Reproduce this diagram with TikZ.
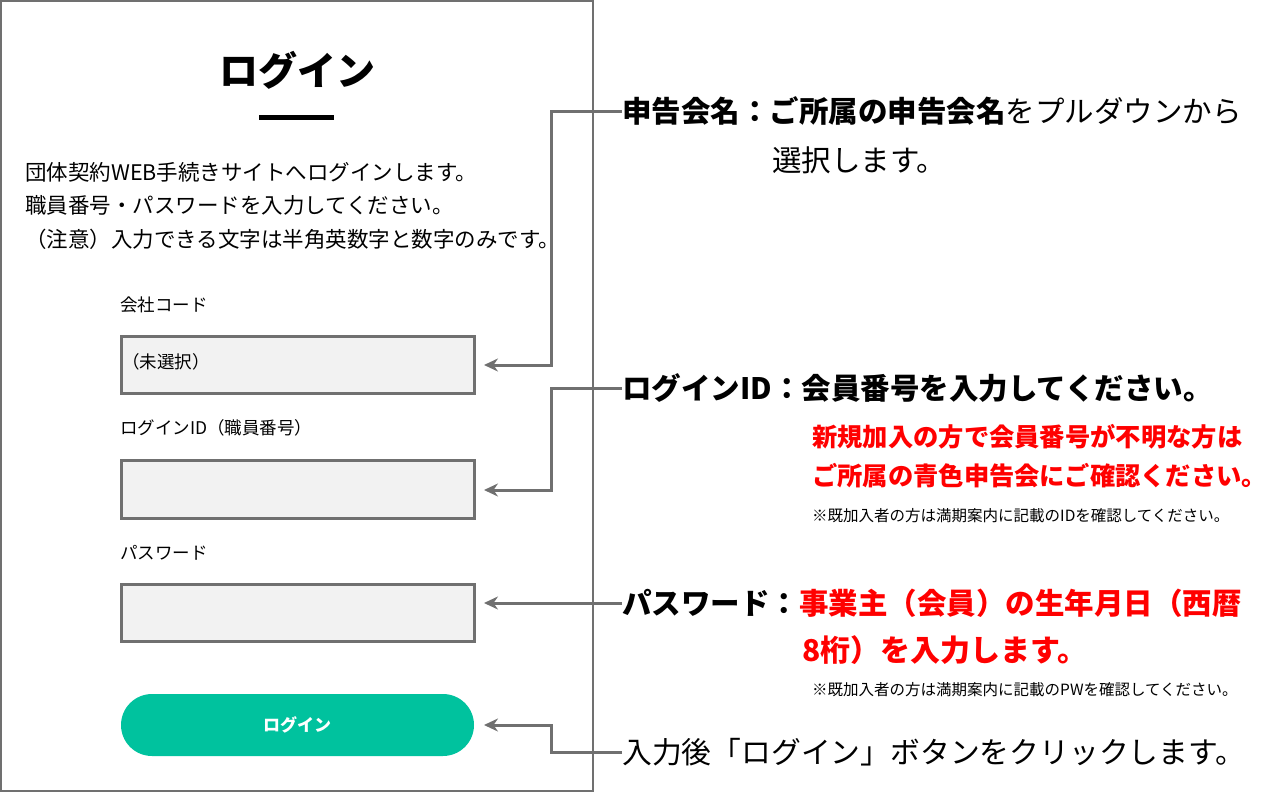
\documentclass[tikz,border=0pt]{standalone}
\usepackage{fontspec}
\setmainfont{Noto Sans CJK JP}
\usetikzlibrary{arrows.meta}
\definecolor{bx}{HTML}{707070}
\definecolor{bf}{HTML}{F2F2F2}
\definecolor{grn}{HTML}{00C29E}
\definecolor{rd}{HTML}{FF0000}
\tikzset{
 field/.style={draw=bx,line width=3pt,fill=bf},
 conn/.style={draw=bx,line width=3pt,-{Stealth[length=14pt,width=13pt]}},
 txt/.style={anchor=west,inner sep=0pt,font=\fontsize{21.5}{26}\selectfont},
 lbl/.style={anchor=west,inner sep=0pt,font=\fontsize{17.5}{21}\selectfont},
 big/.style={anchor=west,inner sep=0pt,font=\fontsize{29.5}{34}\selectfont\bfseries},
 red/.style={anchor=west,inner sep=0pt,text=rd,font=\fontsize{25.3}{30}\selectfont\bfseries},
 note/.style={anchor=west,inner sep=0pt,font=\fontsize{15.5}{18}\selectfont},
}
\begin{document}
\begin{tikzpicture}[x=1pt,y=-1pt]
\useasboundingbox (0,0) rectangle (1280,792);
\draw[bx,line width=1.5pt] (1,1) rectangle (593,791);
\node[font=\fontsize{39}{44}\selectfont\bfseries] (title) at (297,70) {ログイン};
\fill (259,114.5) rectangle (334,119.5);
\node[txt] (t1) at (25,172) {団体契約WEB手続きサイトへログインします。};
\node[txt] (t2) at (25,205) {職員番号・パスワードを入力してください。};
\node[txt] (t3) at (25,239) {（注意）入力できる文字は半角英数字と数字のみです。};
\node[lbl] (l1) at (120,305) {会社コード};
\draw[field] (121,336) rectangle (474,393);
\node[lbl] (v1) at (122,362) {（未選択）};
\node[lbl] (l2) at (120,428) {ログインID（職員番号）};
\draw[field] (121,460) rectangle (474,518);
\node[lbl] (l3) at (120,553) {パスワード};
\draw[field] (121,584) rectangle (474,641);
\fill[grn,rounded corners=31pt] (121,694) rectangle (474,756);
\node[text=white,font=\fontsize{17}{20}\selectfont\bfseries] (btn) at (297,725) {ログイン};
\coordinate (a1) at (484,365); \coordinate (a2) at (484,490);
\coordinate (a3) at (484,603); \coordinate (a4) at (484,725);
\node[big] (r1) at (622,111) {申告会名：ご所属の申告会名\mdseries をプルダウンから};
\node[anchor=west,inner sep=0pt,font=\fontsize{29.5}{34}\selectfont] (r1b) at (772,160) {選択します。};
\node[big] (r2) at (622,388) {ログインID：会員番号を入力してください。};
\node[red] (r2a) at (812,437) {新規加入の方で会員番号が不明な方は};
\node[red] (r2b) at (812,476) {ご所属の青色申告会にご確認ください。};
\node[note] (r2c) at (812,516) {※既加入者の方は満期案内に記載のIDを確認してください。};
\node[big] (r3) at (622,603) {パスワード：\textcolor{rd}{事業主（会員）の生年月日（西暦}};
\node[red,font=\fontsize{30}{34}\selectfont\bfseries] (r3b) at (802,650) {8桁）を入力します。};
\node[note] (r3c) at (812,690) {※既加入者の方は満期案内に記載のPWを確認してください。};
\node[anchor=west,inner sep=0pt,font=\fontsize{29.8}{34}\selectfont] (r4) at (622,752) {入力後「ログイン」ボタンをクリックします。};
\draw[conn] (r1.west) -- (551,111) -- (551,365) -- (a1);
\draw[conn] (r2.west) -- (551,388) -- (551,490) -- (a2);
\draw[conn] (r3.west) -- (a3);
\draw[conn] (r4.west) -- (551,752) -- (551,725) -- (a4);
\end{tikzpicture}
\end{document}
